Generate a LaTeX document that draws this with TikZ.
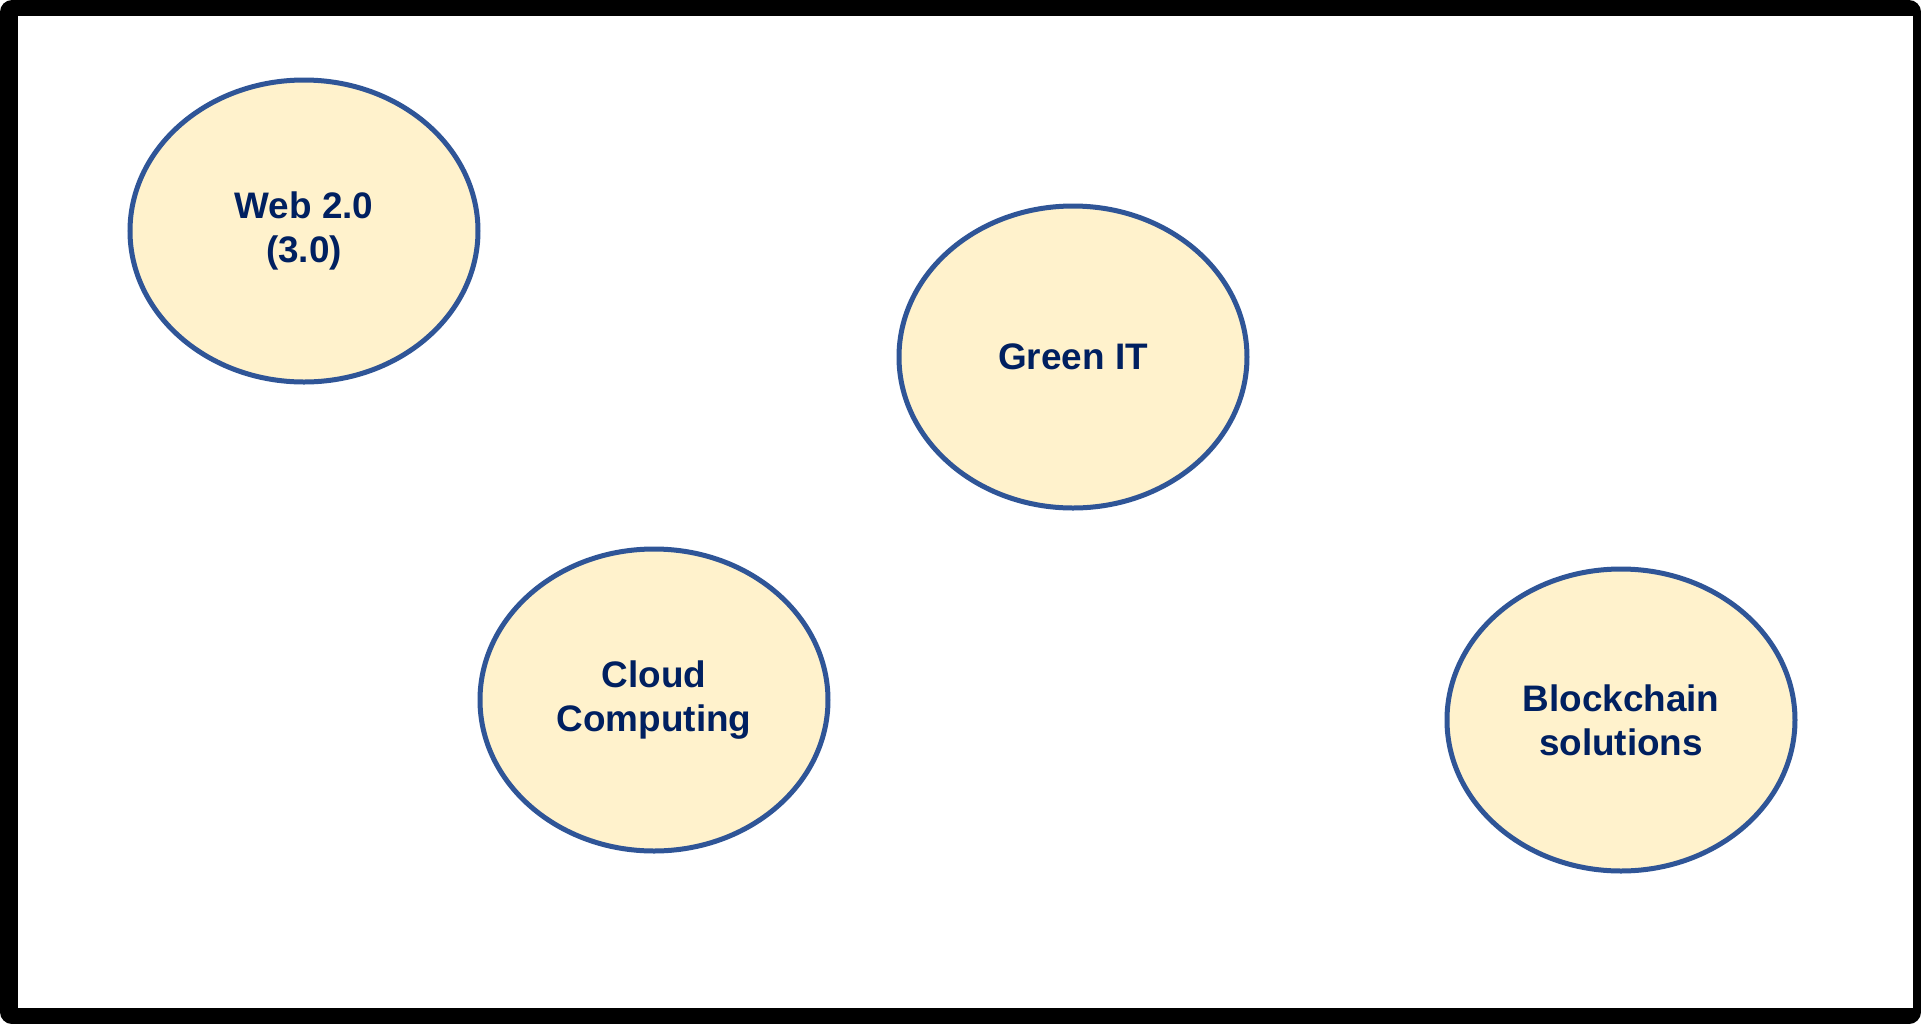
\documentclass[tikz,border=0pt]{standalone}
\usepackage{fontspec}
\setmainfont{Liberation Sans}
\usetikzlibrary{shapes.geometric}

\definecolor{topicfill}{HTML}{FFF2CC}
\definecolor{topicline}{HTML}{2F5597}
\definecolor{topictext}{HTML}{002060}

\begin{document}
\begin{tikzpicture}

\useasboundingbox (0,0) rectangle (19.21,-10.24);
\fill[black, rounded corners=0.12cm] (0,0) rectangle (19.21,-10.24);
\fill[white] (0.18,-0.16) rectangle (19.13,-10.08);

\begin{scope}[every node/.style={ellipse,draw=topicline,line width=0.05cm,fill=topicfill,
        minimum width=3.48cm,minimum height=3.02cm,inner sep=0pt,align=center,
        text=topictext,font=\bfseries\fontsize{10.5}{12.6}\selectfont}]
    \node (web) at (3.04, -2.31) {Web 2.0\\(3.0)};
    \node (green) at (10.73, -3.57) {Green IT};
    \node (cloud) at (6.54, -7.00) {Cloud\\Computing};
    \node (chain) at (16.21, -7.20) {Blockchain\\solutions};
\end{scope}

\end{tikzpicture}
\end{document}
